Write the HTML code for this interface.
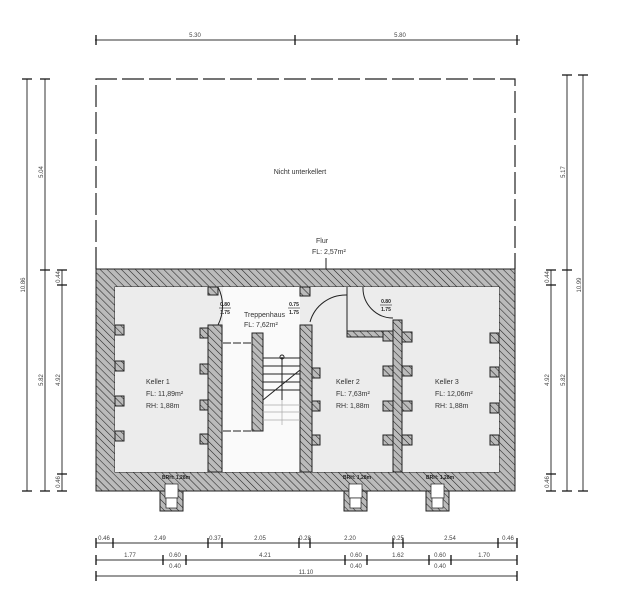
<!DOCTYPE html>
<html><head><style>
html,body{margin:0;padding:0;background:#fff;}
svg{display:block;font-family:"Liberation Sans",sans-serif;}
</style></head><body>
<svg width="617" height="613" viewBox="0 0 617 613" xmlns="http://www.w3.org/2000/svg">
<defs>
<pattern id="h" patternUnits="userSpaceOnUse" width="5" height="5" patternTransform="rotate(-45)">
<rect width="5" height="5" fill="#bbb"/><line x1="0" y1="0" x2="0" y2="5" stroke="#222" stroke-width="1.1"/>
</pattern>
</defs>
<path d="M96 269 V79 H515 V269" fill="none" stroke="#222" stroke-width="1.2" stroke-dasharray="22,5"/>
<text x="300" y="174" font-size="7" text-anchor="middle" fill="#333">Nicht unterkellert</text>
<text x="316" y="243" font-size="7" fill="#333">Flur</text>
<text x="312" y="254" font-size="7" fill="#333">FL: 2,57m²</text>
<line x1="326" y1="258" x2="326" y2="295" stroke="#222"/>
<path fill-rule="evenodd" fill="url(#h)" stroke="#222" stroke-width="1" d="M96 269 H515 V491 H96 Z M115 287 H499 V472 H115 Z"/>
<rect x="115" y="287" width="384" height="185" fill="#ececec"/>
<rect x="223" y="287" width="77" height="185" fill="#fafafa"/>
<g fill="url(#h)" stroke="#222" stroke-width="1">
<rect x="208" y="325" width="14" height="147"/>
<rect x="208" y="287" width="10" height="8"/>
<rect x="200" y="328" width="8" height="10"/><rect x="200" y="364" width="8" height="10"/><rect x="200" y="400" width="8" height="10"/><rect x="200" y="434" width="8" height="10"/>
<rect x="115" y="325" width="9" height="10"/><rect x="115" y="361" width="9" height="10"/><rect x="115" y="396" width="9" height="10"/><rect x="115" y="431" width="9" height="10"/>
<rect x="252" y="333" width="11" height="98"/>
<rect x="300" y="325" width="12" height="147"/>
<rect x="300" y="287" width="10" height="9"/>
<rect x="312" y="368" width="8" height="10"/><rect x="312" y="401" width="8" height="10"/><rect x="312" y="435" width="8" height="10"/>
<rect x="347" y="331" width="46" height="6"/>
<rect x="393" y="320" width="9" height="152"/>
<rect x="383" y="331" width="10" height="10"/><rect x="383" y="366" width="10" height="10"/><rect x="383" y="401" width="10" height="10"/><rect x="383" y="435" width="10" height="10"/>
<rect x="402" y="332" width="10" height="10"/><rect x="402" y="366" width="10" height="10"/><rect x="402" y="401" width="10" height="10"/><rect x="402" y="435" width="10" height="10"/>
<rect x="490" y="333" width="9" height="10"/><rect x="490" y="367" width="9" height="10"/><rect x="490" y="403" width="9" height="10"/><rect x="490" y="435" width="9" height="10"/>
<rect x="160" y="491" width="23" height="20"/><rect x="344" y="491" width="23" height="20"/><rect x="426" y="491" width="23" height="20"/>
</g>
<g fill="#fff" stroke="#222" stroke-width="0.7">
<rect x="165" y="484" width="13" height="14"/><rect x="349" y="484" width="13" height="14"/><rect x="431" y="484" width="13" height="14"/>
<rect x="166" y="498" width="11" height="10"/><rect x="350" y="498" width="11" height="10"/><rect x="432" y="498" width="11" height="10"/>
</g>
<g font-size="5" font-weight="bold" fill="#222">
<text x="162" y="479">BRH: 1,28m</text><text x="343" y="479">BRH: 1,28m</text><text x="426" y="479">BRH: 1,28m</text>
</g>
<g fill="none" stroke="#222" stroke-width="1">
<path d="M218 287 A42 42 0 0 1 218 325"/>
<path d="M347 287 V332 M347 295 A37 37 0 0 0 310 322"/>
<path d="M363 287 A30 30 0 0 0 393 318"/>
<line x1="223" y1="343" x2="252" y2="343" stroke-dasharray="8,2"/>
<line x1="223" y1="431" x2="252" y2="431" stroke-dasharray="8,2"/>
<line x1="263" y1="358" x2="300" y2="358"/><line x1="263" y1="366" x2="300" y2="366"/><line x1="263" y1="374" x2="300" y2="374"/><line x1="263" y1="382" x2="300" y2="382"/><line x1="263" y1="390" x2="300" y2="390"/>
<line x1="263" y1="400" x2="300" y2="370"/>
<line x1="282" y1="357" x2="282" y2="400"/>
</g>
<g fill="none" stroke="#aaa" stroke-width="0.7">
<line x1="263" y1="405" x2="300" y2="405"/><line x1="263" y1="412" x2="300" y2="412"/><line x1="263" y1="420" x2="300" y2="420"/><line x1="282" y1="400" x2="282" y2="425"/>
</g>
<circle cx="282" cy="357" r="2" fill="none" stroke="#222"/>
<g font-size="7" fill="#333">
<text x="146" y="384">Keller 1</text><text x="146" y="396">FL: 11,89m²</text><text x="146" y="408">RH: 1,88m</text>
<text x="336" y="384">Keller 2</text><text x="336" y="396">FL: 7,63m²</text><text x="336" y="408">RH: 1,88m</text>
<text x="435" y="384">Keller 3</text><text x="435" y="396">FL: 12,06m²</text><text x="435" y="408">RH: 1,88m</text>
<text x="244" y="317">Treppenhaus</text><text x="244" y="327">FL: 7,62m²</text>
</g>
<g font-size="5" font-weight="bold" fill="#222" text-anchor="middle">
<text x="225" y="306">0.80</text><line x1="219" y1="308" x2="231" y2="308" stroke="#222" stroke-width="0.6"/><text x="225" y="314">1.75</text>
<text x="294" y="306">0.75</text><line x1="288" y1="308" x2="300" y2="308" stroke="#222" stroke-width="0.6"/><text x="294" y="314">1.75</text>
<text x="386" y="303">0.80</text><line x1="380" y1="305" x2="392" y2="305" stroke="#222" stroke-width="0.6"/><text x="386" y="311">1.75</text>
</g>
<g stroke="#333" stroke-width="1" fill="none">
<line x1="95" y1="40" x2="520" y2="40"/>
<line x1="27" y1="79" x2="27" y2="491"/><line x1="45" y1="79" x2="45" y2="491"/><line x1="62" y1="270" x2="62" y2="491"/>
<line x1="551" y1="270" x2="551" y2="491"/><line x1="567" y1="75" x2="567" y2="491"/><line x1="583" y1="75" x2="583" y2="491"/>
<line x1="96" y1="543" x2="517" y2="543"/><line x1="96" y1="560" x2="517" y2="560"/><line x1="96" y1="576" x2="517" y2="576"/>
</g>
<g stroke="#111" stroke-width="1.3">
<path d="M96 35V45M295 35V45M517 35V45"/>
<path d="M22 79H32M40 79H50M22 491H32M40 491H50M57 491H67M40 270H50M57 270H67M57 285H67M57 474H67"/>
<path d="M546 270H556M546 285H556M546 474H556M546 491H556M562 491H572M578 491H588M562 270H572M562 75H572M578 75H588"/>
<path d="M96 538V548M113 538V548M208 538V548M222 538V548M299 538V548M310 538V548M393 538V548M403 538V548M498 538V548M517 538V548"/>
<path d="M96 555V565M163 555V565M186 555V565M345 555V565M367 555V565M429 555V565M451 555V565M517 555V565"/>
<path d="M96 571V581M517 571V581"/>
</g>
<g font-size="6" fill="#444" text-anchor="middle">
<text x="195" y="37">5.30</text><text x="400" y="37">5.80</text>
<text x="104" y="540">0.46</text><text x="160" y="540">2.49</text><text x="215" y="540">0.37</text><text x="260" y="540">2.05</text><text x="305" y="540">0.28</text><text x="350" y="540">2.20</text><text x="398" y="540">0.25</text><text x="450" y="540">2.54</text><text x="508" y="540">0.46</text>
<text x="130" y="557">1.77</text><text x="175" y="557">0.60</text><text x="265" y="557">4.21</text><text x="356" y="557">0.60</text><text x="398" y="557">1.62</text><text x="440" y="557">0.60</text><text x="484" y="557">1.70</text>
<text x="175" y="568">0.40</text><text x="356" y="568">0.40</text><text x="440" y="568">0.40</text>
<text x="306" y="574">11.10</text>
</g>
<g font-size="6" fill="#444" text-anchor="middle">
<text transform="translate(25,285) rotate(-90)">10.86</text>
<text transform="translate(43,172) rotate(-90)">5.04</text>
<text transform="translate(43,380) rotate(-90)">5.82</text>
<text transform="translate(60,277) rotate(-90)">0.44</text>
<text transform="translate(60,380) rotate(-90)">4.92</text>
<text transform="translate(60,482) rotate(-90)">0.46</text>
<text transform="translate(549,277) rotate(-90)">0.44</text>
<text transform="translate(549,380) rotate(-90)">4.92</text>
<text transform="translate(549,482) rotate(-90)">0.46</text>
<text transform="translate(565,172) rotate(-90)">5.17</text>
<text transform="translate(565,380) rotate(-90)">5.82</text>
<text transform="translate(581,285) rotate(-90)">10.99</text>
</g>
</svg>
</body></html>
